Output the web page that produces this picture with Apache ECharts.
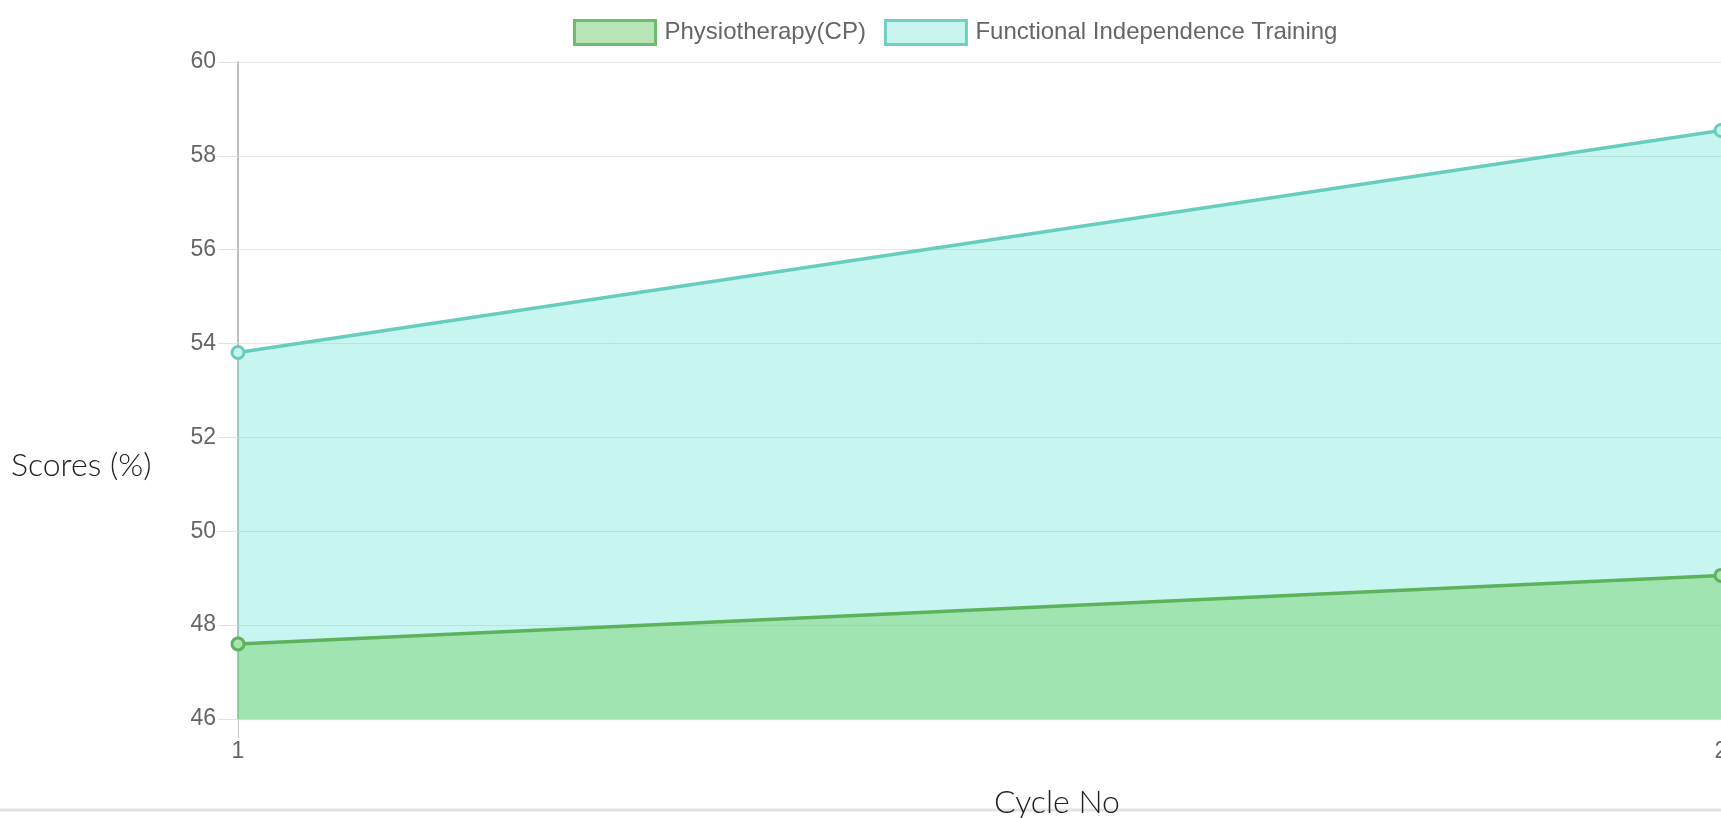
<!DOCTYPE html>
<html>
<head>
<meta charset="utf-8">
<script src="https://cdn.jsdelivr.net/npm/echarts@6/dist/echarts.min.js"></script>
<style>
  html, body { margin: 0; padding: 0; background: #fff; overflow: hidden; }
  #chart { width: 1721px; height: 818px; }
</style>
</head>
<body>
<div id="chart"></div>
<script>
const categories = ['1', '2'];
const physioValues = [47.6, 49.06];
const fitValues = [53.81, 58.54];
const seriesNames = ['Physiotherapy(CP)', 'Functional Independence Training'];
const yTicks = { min: 46, max: 60, interval: 2 };
const yTitle = 'Scores (%)';
const xTitle = 'Cycle No';

const GREEN_LINE = '#5cb35c';
const CYAN_LINE = '#66cdbf';

const chart = echarts.init(document.getElementById('chart'), null, { renderer: 'canvas' });
chart.setOption({
  animation: false,
  legend: {
    top: 14,
    left: 568,
    itemWidth: 81,
    itemHeight: 24,
    itemGap: 18,
    textStyle: { fontFamily: 'Liberation Sans', fontSize: 24, color: '#666', padding: [0, 0, 0, 4] },
    data: [
      { name: seriesNames[0], icon: 'rect', itemStyle: { color: '#b8e5b8', borderColor: '#6cbd6c', borderWidth: 3 } },
      { name: seriesNames[1], icon: 'rect', itemStyle: { color: '#c9f5ef', borderColor: '#6fd0c2', borderWidth: 3 } }
    ]
  },
  grid: { left: 238, right: 0, top: 62, bottom: 99, containLabel: false, outerBoundsMode: 'none' },
  xAxis: {
    type: 'category',
    data: categories,
    boundaryGap: false,
    axisLine: { show: true, lineStyle: { color: '#d9d9d9', width: 1 } },
    axisTick: { show: true, length: 19, alignWithLabel: true, lineStyle: { color: '#c8c8c8' } },
    axisLabel: { color: '#666', fontFamily: 'Liberation Sans', fontSize: 23, margin: 21 },
    splitLine: { show: false }
  },
  yAxis: {
    type: 'value',
    min: yTicks.min,
    max: yTicks.max,
    interval: yTicks.interval,
    axisLine: { show: true, lineStyle: { color: '#bdbdbd', width: 2 } },
    axisTick: { show: true, length: 20, lineStyle: { color: '#e2e2e2' } },
    axisLabel: { color: '#666', fontFamily: 'Liberation Sans', fontSize: 23, margin: 22 },
    splitLine: { show: true, lineStyle: { color: '#e6e6e6', width: 1 } }
  },
  series: [
    {
      name: seriesNames[1],
      type: 'line',
      data: fitValues,
      z: 2,
      symbol: 'circle',
      symbolSize: 12,
      lineStyle: { color: CYAN_LINE, width: 3.5 },
      itemStyle: { color: '#c9f5ef', borderColor: CYAN_LINE, borderWidth: 3 },
      areaStyle: { origin: 'start', opacity: 1, color: 'rgba(70,225,205,0.3)' }
    },
    {
      name: seriesNames[0],
      type: 'line',
      data: physioValues,
      z: 3,
      symbol: 'circle',
      symbolSize: 12,
      lineStyle: { color: GREEN_LINE, width: 3.5 },
      itemStyle: { color: '#a9e4b0', borderColor: GREEN_LINE, borderWidth: 3 },
      areaStyle: { origin: 'start', opacity: 1, color: 'rgba(100,203,83,0.4)' }
    }
  ],
  graphic: [
    {
      type: 'line',
      shape: { x1: 0, y1: 810, x2: 1721, y2: 810 },
      style: { stroke: '#e3e3e3', lineWidth: 3 },
      z: 1
    },
    {
      type: 'text',
      left: 11,
      top: 450,
      style: { text: yTitle, font: '300 32px Lato', fill: '#222' },
      z: 5
    },
    {
      type: 'text',
      x: 1057,
      y: 803,
      style: { text: xTitle, font: '300 32px Lato', fill: '#222', textAlign: 'center', textVerticalAlign: 'middle' },
      z: 5
    }
  ]
});
</script>
</body>
</html>
